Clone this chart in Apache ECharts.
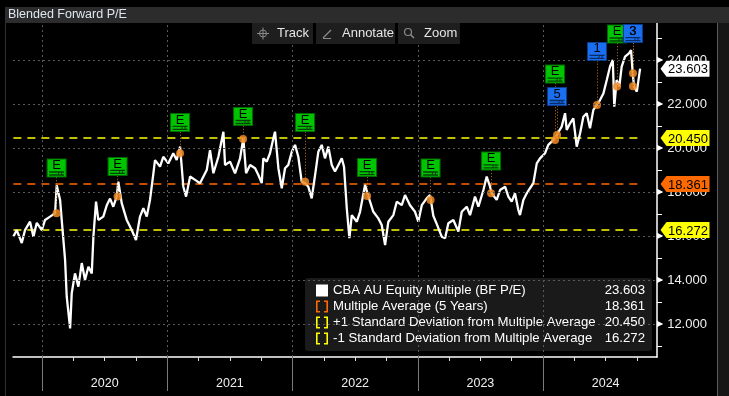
<!DOCTYPE html>
<html>
<head>
<meta charset="utf-8">
<title>Blended Forward P/E</title>
<script src="https://cdn.jsdelivr.net/npm/echarts@6.0.0/dist/echarts.min.js"></script>
<style>
  html, body { margin: 0; padding: 0; background: #000; }
  #main { width: 729px; height: 396px; }
</style>
</head>
<body>
<div id="main"></div>
<script>
// 日期用小数年表示
const dates = [
  2019.771, 2019.798, 2019.838, 2019.864, 2019.904, 2019.931, 2019.958, 2019.998,
  2020.024, 2020.064, 2020.104, 2020.117, 2020.144, 2020.157, 2020.184, 2020.197,
  2020.224, 2020.237, 2020.263, 2020.290, 2020.317, 2020.343, 2020.370, 2020.397,
  2020.410, 2020.431, 2020.449, 2020.489, 2020.517, 2020.543, 2020.569, 2020.596,
  2020.609, 2020.636, 2020.676, 2020.716, 2020.750, 2020.782, 2020.809, 2020.836,
  2020.862, 2020.889, 2020.902, 2020.942, 2020.968, 2021.008, 2021.048, 2021.075,
  2021.102, 2021.128, 2021.150, 2021.182, 2021.222, 2021.261, 2021.315, 2021.341,
  2021.368, 2021.408, 2021.421, 2021.448, 2021.461, 2021.501, 2021.541, 2021.581,
  2021.607, 2021.629, 2021.661, 2021.701, 2021.727, 2021.754, 2021.767, 2021.794,
  2021.820, 2021.847, 2021.860, 2021.887, 2021.914, 2021.940, 2021.966, 2021.994,
  2022.020, 2022.046, 2022.073, 2022.100, 2022.126, 2022.153, 2022.180, 2022.206,
  2022.233, 2022.259, 2022.286, 2022.313, 2022.339, 2022.366, 2022.393, 2022.411,
  2022.433, 2022.454, 2022.473, 2022.513, 2022.539, 2022.579, 2022.606, 2022.645,
  2022.685, 2022.712, 2022.739, 2022.765, 2022.805, 2022.832, 2022.872, 2022.898,
  2022.938, 2022.978, 2023.004, 2023.032, 2023.071, 2023.098, 2023.124, 2023.151,
  2023.191, 2023.218, 2023.244, 2023.284, 2023.324, 2023.351, 2023.391, 2023.417,
  2023.457, 2023.484, 2023.524, 2023.550, 2023.577, 2023.590, 2023.630, 2023.657,
  2023.697, 2023.723, 2023.750, 2023.776, 2023.803, 2023.816, 2023.843, 2023.870,
  2023.896, 2023.923, 2023.950, 2023.976, 2024.016, 2024.042, 2024.082, 2024.109,
  2024.149, 2024.176, 2024.189, 2024.216, 2024.242, 2024.269, 2024.296, 2024.322,
  2024.349, 2024.375, 2024.402, 2024.429, 2024.455, 2024.482, 2024.509, 2024.535,
  2024.557, 2024.569, 2024.588, 2024.609, 2024.628, 2024.655, 2024.686, 2024.703,
  2024.716, 2024.727, 2024.749, 2024.775
]
const peValues = [
  15.97, 16.27, 15.68, 16.27, 16.65, 15.97, 16.60, 16.27,
  16.73, 16.88, 17.03, 18.30, 17.64, 16.73, 14.90, 13.24,
  11.80, 13.40, 14.30, 13.70, 14.77, 14.00, 14.60, 14.30,
  15.97, 17.56, 16.73, 16.88, 17.40, 17.70, 17.33, 17.79,
  18.47, 17.49, 16.73, 16.27, 15.82, 16.88, 17.26, 16.88,
  17.64, 18.85, 19.45, 19.15, 19.60, 19.30, 19.76, 19.45,
  20.06, 18.24, 17.79, 18.70, 18.55, 18.40, 19.00, 19.90,
  18.85, 19.60, 19.98, 20.74, 19.23, 19.38, 18.85, 19.53,
  20.44, 18.85, 19.23, 19.08, 18.77, 18.40, 19.53, 19.38,
  19.76, 20.44, 20.74, 19.08, 18.17, 19.08, 19.23, 19.83,
  20.14, 19.60, 18.47, 18.40, 18.24, 17.71, 18.77, 19.83,
  20.14, 19.53, 20.06, 19.23, 18.93, 19.23, 19.53, 19.15,
  17.26, 15.90, 16.95, 16.65, 17.10, 18.32, 17.79, 17.10,
  16.80, 16.50, 15.59, 16.65, 16.95, 17.56, 17.40, 17.86,
  17.40, 17.10, 16.65, 17.40, 17.71, 17.86, 16.92, 16.55,
  15.97, 15.90, 16.58, 16.73, 16.20, 17.10, 17.33, 16.95,
  17.79, 17.33, 18.09, 18.70, 18.24, 17.94, 17.64, 18.09,
  18.24, 17.79, 17.56, 17.94, 17.18, 16.95, 17.64, 17.94,
  18.17, 18.40, 19.30, 19.53, 19.76, 20.14, 20.36, 20.59,
  20.97, 21.58, 20.82, 21.12, 21.35, 20.06, 20.67, 21.42,
  21.58, 20.90, 21.73, 21.95, 22.18, 22.48, 23.09, 23.70,
  24.00, 21.88, 23.09, 22.79, 23.70, 24.15, 24.30, 24.45,
  23.40, 22.79, 22.56, 23.603
]
const avgValue = 18.361
const sdUpper = 20.450
const sdLower = 16.272

// 事件标记 (E = 业绩, 数字 = 其他事件)
const eventDates = [2020.116, 2020.603, 2021.102, 2021.605, 2022.100, 2022.595, 2023.102,
  2023.585, 2024.096, 2024.112, 2024.431, 2024.591, 2024.718, 2024.718]
const eventTypes = ['E', 'E', 'E', 'E', 'E', 'E', 'E', 'E', 'E', '5', '1', 'E', '3', '3']
const eventValues = [17.03, 17.79, 19.76, 20.41, 18.47, 17.82, 17.64, 17.94, 20.36, 20.59,
  21.95, 22.79, 23.40, 22.80]

const yearTicks = [2020, 2021, 2022, 2023, 2024]
const yTickLabels = [12, 14, 16, 18, 20, 22, 24]

const names = {
  main: 'CBA AU Equity Multiple (BF P/E)',
  avg: 'Multiple Average (5 Years)',
  up: '+1 Standard Deviation from Multiple Average',
  low: '-1 Standard Deviation from Multiple Average'
}

// 布局: 事件框的高度位置
const flagLevels = [19.09, 19.16, 21.16, 21.43, 21.16, 19.11, 19.09, 19.41, 23.36, 22.34,
  24.39, 25.18, 25.20, 25.20]

const X_MIN = 2019.768
const X_MAX = 2024.91
const FONT = 'Liberation Sans, Arial, sans-serif'
const ORANGE = '#ff6a00'
const YELLOW = '#ffff00'

const chart = echarts.init(document.getElementById('main'))

const lastValue = peValues[peValues.length - 1]
const legendValues = {}
legendValues[names.main] = lastValue.toFixed(3)
legendValues[names.avg] = avgValue.toFixed(3)
legendValues[names.up] = sdUpper.toFixed(3)
legendValues[names.low] = sdLower.toFixed(3)

const quarterTicks = []
for (let y = 2020; y <= 2024; y++) {
  ;[0.25, 0.5, 0.75].forEach(q => quarterTicks.push(y + q))
}
const yMinor = []
for (let v = 11; v <= 25; v++) yMinor.push(v)

const bracketIcon = 'path://M0,0H4V1.6H1.6V10.4H4V12H0Z M12,0H8V1.6H10.4V10.4H8V12H12Z'
const tagPath = 'path://M0,8L6,0L49,0L49,16L6,16Z'
const stripePath = 'path://M0,0H15V1.3H0Z M0,3H15V4.3H0Z M9,0H10V4.3H9Z M12,0H13V4.3H12Z'

const first = dates[0]
const last = dates[dates.length - 1]

// 右侧数值标签
function flag (value, color) {
  return {
    coord: [X_MAX, value],
    symbol: tagPath,
    symbolSize: [49, 16],
    symbolOffset: [28, 0],
    itemStyle: { color: color },
    label: {
      show: true,
      formatter: value.toFixed(3),
      color: '#000',
      fontSize: 13,
      fontFamily: FONT,
      offset: [3, 1]
    }
  }
}

// 事件框
const eventMarks = []
const eventLines = []
eventDates.forEach((d, i) => {
  const isE = eventTypes[i] === 'E'
  eventMarks.push({
    coord: [d, flagLevels[i]],
    symbol: 'rect',
    symbolSize: [19, 18],
    itemStyle: {
      color: isE ? '#00c400' : '#1a6ff0',
      borderColor: isE ? '#006a00' : '#0a3c90',
      borderWidth: 1
    },
    label: {
      show: true,
      formatter: eventTypes[i],
      color: '#000',
      fontSize: 13,
      fontFamily: FONT,
      offset: [0, -2.5]
    }
  })
  eventMarks.push({
    coord: [d, flagLevels[i]],
    symbol: stripePath,
    symbolSize: [15, 4.3],
    symbolOffset: [0, 5.5],
    itemStyle: { color: isE ? '#064006' : '#0a2a60' },
    label: { show: false }
  })
  eventLines.push([
    { coord: [d, flagLevels[i] - 0.42] },
    { coord: [d, eventValues[i]] }
  ])
})

const option = {
  backgroundColor: '#000',
  animation: false,
  grid: { left: 13, right: 72, top: 23, bottom: 39 },
  legend: {
    orient: 'vertical',
    left: 305,
    top: 278,
    padding: [6, 7, 6, 11],
    itemWidth: 12,
    itemHeight: 12,
    itemGap: 3,
    backgroundColor: '#1a1a1a',
    borderRadius: 3,
    selectedMode: false,
    data: [
      { name: names.main, icon: 'rect' },
      { name: names.avg, icon: bracketIcon },
      { name: names.up, icon: bracketIcon },
      { name: names.low, icon: bracketIcon }
    ],
    formatter: name => '{n|' + name + '}{v|' + legendValues[name] + '}',
    textStyle: {
      color: '#fff',
      fontFamily: FONT,
      fontSize: 13.2,
      rich: {
        n: { width: 272, fontSize: 13.2, fontFamily: FONT, color: '#fff' },
        v: { width: 40, align: 'right', fontSize: 13.2, fontFamily: FONT, color: '#fff' }
      }
    }
  },
  xAxis: [
    {
      type: 'value',
      min: X_MIN,
      max: X_MAX,
      axisLine: { show: true, lineStyle: { color: '#fff', width: 1.5 } },
      axisTick: { show: true, customValues: quarterTicks, length: 4, lineStyle: { color: '#ddd' } },
      axisLabel: {
        customValues: yearTicks.map(y => y + 0.5),
        formatter: v => String(Math.floor(v)),
        color: '#f0f0f0',
        fontSize: 12.5,
        fontFamily: FONT,
        margin: 20
      },
      splitLine: { show: false }
    },
    {
      type: 'value',
      min: X_MIN,
      max: X_MAX,
      position: 'bottom',
      axisLine: { show: false },
      axisTick: { show: true, customValues: yearTicks, length: 34, lineStyle: { color: '#7a7a7a' } },
      axisLabel: { show: false },
      splitLine: { show: false }
    }
  ],
  yAxis: {
    type: 'value',
    position: 'right',
    min: 10.5,
    max: 25.68,
    axisLine: { show: true, lineStyle: { color: '#fff', width: 1.5 } },
    axisTick: { show: true, customValues: yMinor, length: 5, lineStyle: { color: '#fff' } },
    axisLabel: {
      customValues: yTickLabels,
      margin: 0,
      formatter: v => '{t|▶}{v|' + v.toFixed(3) + '}',
      rich: {
        t: { fontSize: 8, color: '#fff', padding: [0, 4, 0, 0], fontFamily: 'DejaVu Sans' },
        v: { fontSize: 13, color: '#f0f0f0', fontFamily: FONT }
      }
    },
    splitLine: { show: false }
  },
  series: [
    // 网格线
    {
      type: 'line',
      name: 'grid',
      data: [],
      z: 1,
      silent: true,
      markLine: {
        silent: true,
        symbol: ['none', 'none'],
        label: { show: false },
        lineStyle: { color: '#5a5a5a', type: [2, 3], width: 1 },
        data: yTickLabels.map(v => ({ yAxis: v })).concat(yearTicks.map(v => ({ xAxis: v })))
      }
    },
    {
      type: 'line',
      name: names.avg,
      data: [[first, avgValue], [last, avgValue]],
      symbol: 'none',
      itemStyle: { color: ORANGE },
      lineStyle: { color: ORANGE, type: [8, 6], width: 1.6 },
      z: 2
    },
    {
      type: 'line',
      name: names.up,
      data: [[first, sdUpper], [last, sdUpper]],
      symbol: 'none',
      itemStyle: { color: YELLOW },
      lineStyle: { color: YELLOW, type: [8, 6], width: 1.6 },
      z: 2
    },
    {
      type: 'line',
      name: names.low,
      data: [[first, sdLower], [last, sdLower]],
      symbol: 'none',
      itemStyle: { color: YELLOW },
      lineStyle: { color: YELLOW, type: [8, 6], width: 1.6 },
      z: 2
    },
    {
      type: 'line',
      name: names.main,
      data: dates.map((d, i) => [d, peValues[i]]),
      symbol: 'none',
      itemStyle: { color: '#fff' },
      lineStyle: { color: '#fff', width: 2.3 },
      z: 3
    },
    // 事件圆点
    {
      type: 'scatter',
      name: 'events',
      data: eventDates.map((d, i) => [d, eventValues[i]]),
      symbolSize: 8,
      itemStyle: { color: '#f08a24', opacity: 0.85 },
      z: 4,
      markLine: {
        silent: true,
        symbol: ['none', 'none'],
        label: { show: false },
        lineStyle: { color: '#c8741e', type: [1, 2], width: 1 },
        data: eventLines
      },
      markPoint: { silent: true, data: eventMarks }
    },
    // 右侧数值标签
    {
      type: 'line',
      name: 'flags',
      data: [],
      z: 10,
      markPoint: {
        silent: true,
        data: [
          flag(lastValue, '#ffffff'),
          flag(sdUpper, YELLOW),
          flag(avgValue, ORANGE),
          flag(sdLower, YELLOW)
        ]
      }
    }
  ],
  graphic: [
    { type: 'rect', shape: { x: 5, y: 7, width: 724, height: 16 }, style: { fill: '#2c2c2c' }, z: 20 },
    { type: 'text', x: 8, y: 8, style: { text: 'Blended Forward P/E', fill: '#dde6ef', font: '12.5px Liberation Sans' }, z: 21 },
    { type: 'rect', shape: { x: 5, y: 23, width: 1, height: 373 }, style: { fill: '#303030' }, z: 20 },
    { type: 'rect', shape: { x: 717, y: 23, width: 1, height: 373 }, style: { fill: '#5a5a5a' }, z: 20 },
    { type: 'rect', shape: { x: 718, y: 23, width: 11, height: 373 }, style: { fill: '#161616' }, z: 20 },
    // 工具栏
    { type: 'rect', shape: { x: 252, y: 23, width: 61, height: 21 }, style: { fill: '#1e1e1e' }, z: 20 },
    { type: 'rect', shape: { x: 316, y: 23, width: 79, height: 21 }, style: { fill: '#1e1e1e' }, z: 20 },
    { type: 'rect', shape: { x: 398, y: 23, width: 62, height: 21 }, style: { fill: '#1e1e1e' }, z: 20 },
    { type: 'circle', shape: { cx: 263, cy: 33.5, r: 3.5 }, style: { fill: 'none', stroke: '#8a8a8a', lineWidth: 1 }, z: 21 },
    { type: 'line', shape: { x1: 257, y1: 33.5, x2: 269, y2: 33.5 }, style: { stroke: '#8a8a8a', lineWidth: 1 }, z: 21 },
    { type: 'line', shape: { x1: 263, y1: 27.5, x2: 263, y2: 39.5 }, style: { stroke: '#8a8a8a', lineWidth: 1 }, z: 21 },
    { type: 'text', x: 277, y: 27, style: { text: 'Track', fill: '#e6e6e6', font: '13px Liberation Sans' }, z: 21 },
    { type: 'line', shape: { x1: 323, y1: 38, x2: 331, y2: 30 }, style: { stroke: '#8a8a8a', lineWidth: 1.2 }, z: 21 },
    { type: 'line', shape: { x1: 323, y1: 38.5, x2: 331, y2: 38.5 }, style: { stroke: '#8a8a8a', lineWidth: 1 }, z: 21 },
    { type: 'text', x: 342, y: 27, style: { text: 'Annotate', fill: '#e6e6e6', font: '13px Liberation Sans' }, z: 21 },
    { type: 'circle', shape: { cx: 408, cy: 32, r: 3.5 }, style: { fill: 'none', stroke: '#8a8a8a', lineWidth: 1.2 }, z: 21 },
    { type: 'line', shape: { x1: 410.5, y1: 34.5, x2: 414, y2: 38 }, style: { stroke: '#8a8a8a', lineWidth: 1.5 }, z: 21 },
    { type: 'text', x: 424, y: 27, style: { text: 'Zoom', fill: '#e6e6e6', font: '13px Liberation Sans' }, z: 21 }
  ]
}

chart.setOption(option)
</script>
</body>
</html>
